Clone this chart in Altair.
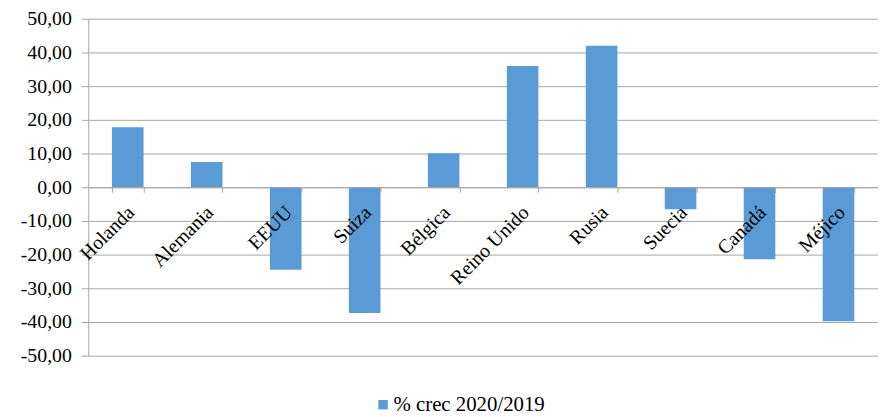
import altair as alt
import pandas as pd

categories = ["Holanda", "Alemania", "EEUU", "Suiza", "Bélgica",
              "Reino Unido", "Rusia", "Suecia", "Canadá", "Méjico"]
values = [17.8, 7.5, -24.5, -37.3, 10.1, 36.0, 42.0, -6.5, -21.4, -39.8]
series_name = "% crec 2020/2019"
y_ticks = [-50, -40, -30, -20, -10, 0, 10, 20, 30, 40, 50]

df = pd.DataFrame({
    "pais": categories,
    "crec": values,
    "serie": [series_name] * len(categories),
})

FONT = "Liberation Serif"
GRAY = "#A6A6A6"
BLUE = "#5B9BD5"

label_expr = ("(datum.value < 0 ? '-' : '') + "
              "replace(format(abs(datum.value), '.2f'), '.', ',')")

chart = alt.Chart(df).mark_bar().encode(
    x=alt.X(
        "pais:N", sort=None, title=None,
        scale=alt.Scale(paddingInner=0.6, paddingOuter=0.3),
        axis=alt.Axis(
            offset=-170, labelAngle=315, labelAlign="right",
            labelBaseline="middle", labelPadding=17, labelOffset=3,
            labelFont=FONT, labelFontSize=20, labelColor="black",
            labelOverlap=False, tickBand="extent", tickSize=5,
            tickColor=GRAY, domainColor=GRAY, grid=False, zindex=1,
        ),
    ),
    y=alt.Y(
        "crec:Q", title=None,
        scale=alt.Scale(domain=[-50, 50], nice=False),
        axis=alt.Axis(
            values=y_ticks, labelExpr=label_expr,
            labelFont=FONT, labelFontSize=20, labelColor="black",
            labelPadding=10, tickSize=7, tickColor=GRAY,
            domainColor=GRAY, gridColor=GRAY, grid=True,
        ),
    ),
    color=alt.Color(
        "serie:N", title=None,
        scale=alt.Scale(range=[BLUE]),
        legend=alt.Legend(
            orient="none", legendX=287, legendY=379, padding=0,
            symbolType="square", symbolSize=90, symbolStrokeWidth=0,
            labelFont=FONT, labelFontSize=21, labelColor="black",
            labelOffset=0,
        ),
    ),
).properties(
    width=797, height=340,
    autosize=alt.AutoSizeParams(type="none"),
    padding={"left": 81, "top": 9, "right": 0, "bottom": 60},
).configure_view(stroke=None)

chart.save("out.html", embed_options={"renderer": "svg", "actions": False})
